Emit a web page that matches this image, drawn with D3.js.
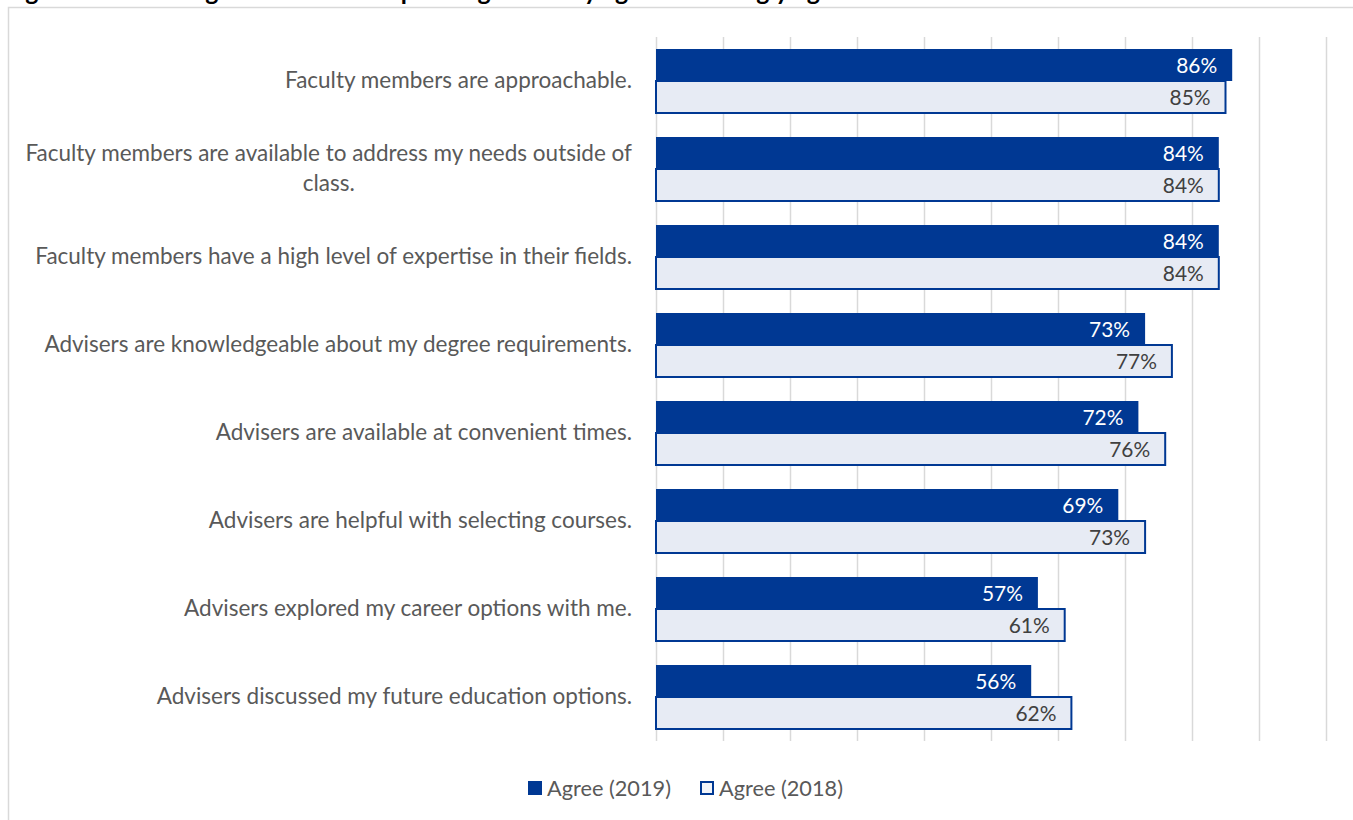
<!DOCTYPE html>
<html>
<head>
<meta charset="utf-8">
<script src="https://cdn.jsdelivr.net/npm/d3@7"></script>
<style>
  html, body { margin: 0; padding: 0; background: #ffffff; overflow: hidden; }
  svg { display: block; }
</style>
</head>
<body>
<svg id="chart" width="1353" height="820"></svg>
<script>
// Survey statements (top to bottom)
const categories = [
  "Faculty members are approachable.",
  "Faculty members are available to address my needs outside of class.",
  "Faculty members have a high level of expertise in their fields.",
  "Advisers are knowledgeable about my degree requirements.",
  "Advisers are available at convenient times.",
  "Advisers are helpful with selecting courses.",
  "Advisers explored my career options with me.",
  "Advisers discussed my future education options."
];
// Percent agreeing, by survey year
const agree2019 = [86, 84, 84, 73, 72, 69, 57, 56];
const agree2018 = [85, 84, 84, 77, 76, 73, 61, 62];
const seriesNames = ["Agree (2019)", "Agree (2018)"];
const xTicks = [0, 10, 20, 30, 40, 50, 60, 70, 80, 90, 100];
const titleText = "Figure 2: Percentage of students responding that they agree or strongly agree with statements";

const FONT = "Lato, 'Open Sans', sans-serif";
const DARK = "#003893";
const LIGHT = "#E7EBF4";
const TEXT = "#595959";

const svg = d3.select("#chart");

// Text sizing helper: scale a font so that a sample string spans a given width
function fitSize(sample, targetWidth, weight) {
  const t = svg.append("text").attr("font-family", FONT)
    .attr("font-size", 100).attr("font-weight", weight || "normal").text(sample);
  const w = t.node().getComputedTextLength();
  t.remove();
  return 100 * targetWidth / w;
}
const titleSize = fitSize(titleText, 1035, "bold");
const labelSize = fitSize("Faculty members are available to address my needs outside of", 607);
const valueSize = fitSize("86%", 41);
const legendSize = fitSize("Agree (2019)", 124);

// Title, sitting above the chart frame at the page top
svg.append("text")
  .attr("x", 5).attr("y", 0)
  .attr("font-family", FONT).attr("font-weight", "bold")
  .attr("font-size", titleSize).attr("fill", "#000")
  .text(titleText);

// Chart frame
svg.append("rect")
  .attr("x", 8.5).attr("y", 7.5)
  .attr("width", 1400).attr("height", 900)
  .attr("fill", "#fff").attr("stroke", "#D9D9D9").attr("stroke-width", 1.5);

const plot = { left: 656, right: 1326, top: 37, bottom: 741 };

const x = d3.scaleLinear().domain([0, 100]).range([plot.left, plot.right]);
const y = d3.scaleBand().domain(categories)
  .range([plot.top, plot.bottom])
  .paddingInner(24 / 88).paddingOuter(12 / 88);
const ySub = d3.scaleBand().domain(seriesNames).range([0, y.bandwidth()]);

// Vertical gridlines
const xAxis = d3.axisBottom(x).tickValues(xTicks)
  .tickSize(-(plot.bottom - plot.top)).tickFormat("");
const gx = svg.append("g")
  .attr("transform", `translate(0,${plot.bottom})`)
  .call(xAxis);
gx.select(".domain").remove();
gx.selectAll(".tick line").attr("stroke", "#D9D9D9").attr("stroke-width", 1.5);

// Bars
const rows = categories.map((c, i) => ({ cat: c, v19: agree2019[i], v18: agree2018[i] }));
const g = svg.append("g");

g.selectAll("rect.b18").data(rows).enter().append("rect")
  .attr("class", "b18")
  .attr("x", x(0))
  .attr("y", d => y(d.cat) + ySub(seriesNames[1]))
  .attr("width", d => x(d.v18) - x(0))
  .attr("height", ySub.bandwidth())
  .attr("fill", LIGHT).attr("stroke", DARK).attr("stroke-width", 2);

g.selectAll("rect.b19").data(rows).enter().append("rect")
  .attr("class", "b19")
  .attr("x", x(0))
  .attr("y", d => y(d.cat) + ySub(seriesNames[0]))
  .attr("width", d => x(d.v19) - x(0))
  .attr("height", ySub.bandwidth())
  .attr("fill", DARK);

// Value labels inside bar ends
g.selectAll("text.l19").data(rows).enter().append("text")
  .attr("x", d => x(d.v19) - 15)
  .attr("y", d => y(d.cat) + ySub(seriesNames[0]) + ySub.bandwidth() / 2 + 1)
  .attr("dy", "0.35em").attr("text-anchor", "end")
  .attr("font-family", FONT).attr("font-size", valueSize).attr("fill", "#fff")
  .text(d => d.v19 + "%");

g.selectAll("text.l18").data(rows).enter().append("text")
  .attr("x", d => x(d.v18) - 15)
  .attr("y", d => y(d.cat) + ySub(seriesNames[1]) + ySub.bandwidth() / 2 + 1)
  .attr("dy", "0.35em").attr("text-anchor", "end")
  .attr("font-family", FONT).attr("font-size", valueSize).attr("fill", "#404040")
  .text(d => d.v18 + "%");

// Category labels, wrapped where they exceed the label column
const labelRight = 632;
const maxLabelWidth = 615;
const measure = svg.append("text").attr("font-family", FONT).attr("font-size", labelSize);
function wrap(str) {
  const words = str.split(" ");
  const lines = [];
  let cur = "";
  words.forEach(w => {
    const trial = cur ? cur + " " + w : w;
    measure.text(trial);
    if (measure.node().getComputedTextLength() > maxLabelWidth && cur) {
      lines.push(cur); cur = w;
    } else cur = trial;
  });
  lines.push(cur);
  return lines;
}
const lineH = labelSize * 1.3;
categories.forEach(c => {
  const lines = wrap(c);
  const cy = y(c) + y.bandwidth() / 2 - 1;
  const t = svg.append("text")
    .attr("font-family", FONT).attr("font-size", labelSize).attr("fill", TEXT);
  if (lines.length === 1) {
    t.attr("x", labelRight).attr("y", cy).attr("dy", "0.35em")
      .attr("text-anchor", "end").text(lines[0]);
  } else {
    measure.text(lines[0]);
    const w0 = measure.node().getComputedTextLength();
    const cx = labelRight - w0 / 2;
    const y0 = cy - (lines.length - 1) * lineH / 2;
    lines.forEach((ln, k) => {
      t.append("tspan").attr("x", cx).attr("y", y0 + k * lineH)
        .attr("dy", "0.35em").attr("text-anchor", "middle").text(ln);
    });
  }
});
measure.remove();

// Legend
const legend = svg.append("g").attr("transform", "translate(528,788)");
const legendItems = [
  { name: seriesNames[0], fill: DARK, stroke: DARK, x: 0 },
  { name: seriesNames[1], fill: "#F2F4F9", stroke: DARK, x: 172 }
];
legendItems.forEach(it => {
  legend.append("rect")
    .attr("x", it.x + 1).attr("y", -6).attr("width", 12).attr("height", 12)
    .attr("fill", it.fill).attr("stroke", it.stroke).attr("stroke-width", 2);
  legend.append("text")
    .attr("x", it.x + 19).attr("y", 0).attr("dy", "0.35em")
    .attr("font-family", FONT).attr("font-size", legendSize).attr("fill", TEXT)
    .text(it.name);
});
</script>
</body>
</html>
